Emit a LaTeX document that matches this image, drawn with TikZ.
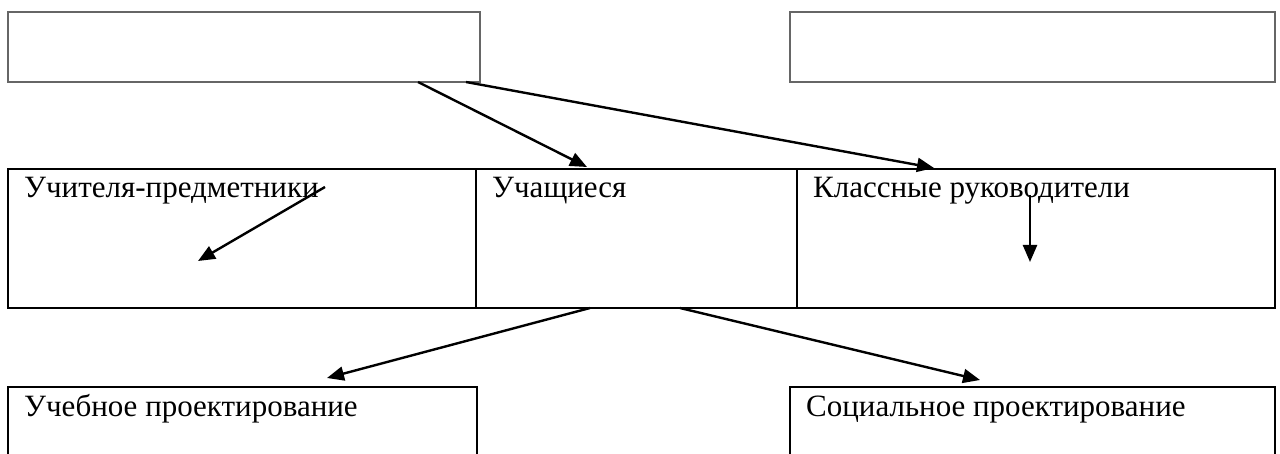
\documentclass[tikz,border=0pt]{standalone}
\usepackage{fontspec}
\setmainfont{Liberation Serif}
\usepackage{tikz}
\usetikzlibrary{positioning,arrows.meta}

\begin{document}
\begin{tikzpicture}[
        x=1pt, y=-1pt,
        emptybox/.style={rectangle, draw=black!60, line width=1.2pt, outer sep=0pt, inner sep=0pt, minimum height=70pt},
        rowbox/.style={rectangle, draw=black, line width=2.6pt, outer sep=0pt, inner sep=0pt, minimum height=139pt},
        lowbox/.style={rectangle, draw=black, line width=2.6pt, outer sep=0pt, inner sep=0pt, minimum height=90pt},
        title/.style={anchor=base west, inner sep=0pt, xshift=16pt, yshift=-29pt, font=\fontsize{31}{36}\selectfont},
        arr/.style={-{Triangle[length=17pt,width=14pt]}, line width=2.4pt},
        node distance= 0pt and 0pt
        ]

        \useasboundingbox (0,0) rectangle (1280,454);
        \clip (0,0) rectangle (1280,454);

        \node[emptybox, minimum width=472pt] (topL)    at (244,47)      {};
        \node[emptybox, minimum width=485pt] (topR)    at (1032.5,47)   {};

        \node[rowbox, minimum width=468pt, label={[title]north west:Учителя-предметники}] (teachers) at (242,238.5) {};
        \node[rowbox, minimum width=321pt, label={[title]north west:Учащиеся}]            (pupils)   [right=of teachers] {};
        \node[rowbox, minimum width=478pt, label={[title]north west:Классные руководители}] (curators) [right=of pupils]   {};

        \node[lowbox, minimum width=469pt, label={[title]north west:Учебное проектирование}]    (study)  at (242.5,432)  {};
        \node[lowbox, minimum width=485pt, label={[title]north west:Социальное проектирование}] (social) at (1032.5,432) {};

        %Free ends inside the boxes
        \coordinate (tIn)  at (325,187);
        \coordinate (tOut) at (198,261);
        \coordinate (cIn)  at (1030,195);
        \coordinate (cOut) at (1030,262);

        %Lines
        \draw[arr] ([xshift=174pt]topL.south) -- ([xshift=-49.5pt,yshift=2pt]pupils.north);
        \draw[arr] ([xshift=222pt]topL.south) -- ([xshift=-102pt,yshift=1pt]curators.north);
        \draw[arr] (tIn) -- (tOut);
        \draw[arr] (cIn) -- (cOut);
        \draw[arr] ([xshift=-46.5pt]pupils.south) -- ([xshift=84.5pt,yshift=9pt]study.north);
        \draw[arr] ([xshift=43.5pt]pupils.south) -- ([xshift=-52.5pt,yshift=7pt]social.north);

    \end{tikzpicture}
\end{document}
